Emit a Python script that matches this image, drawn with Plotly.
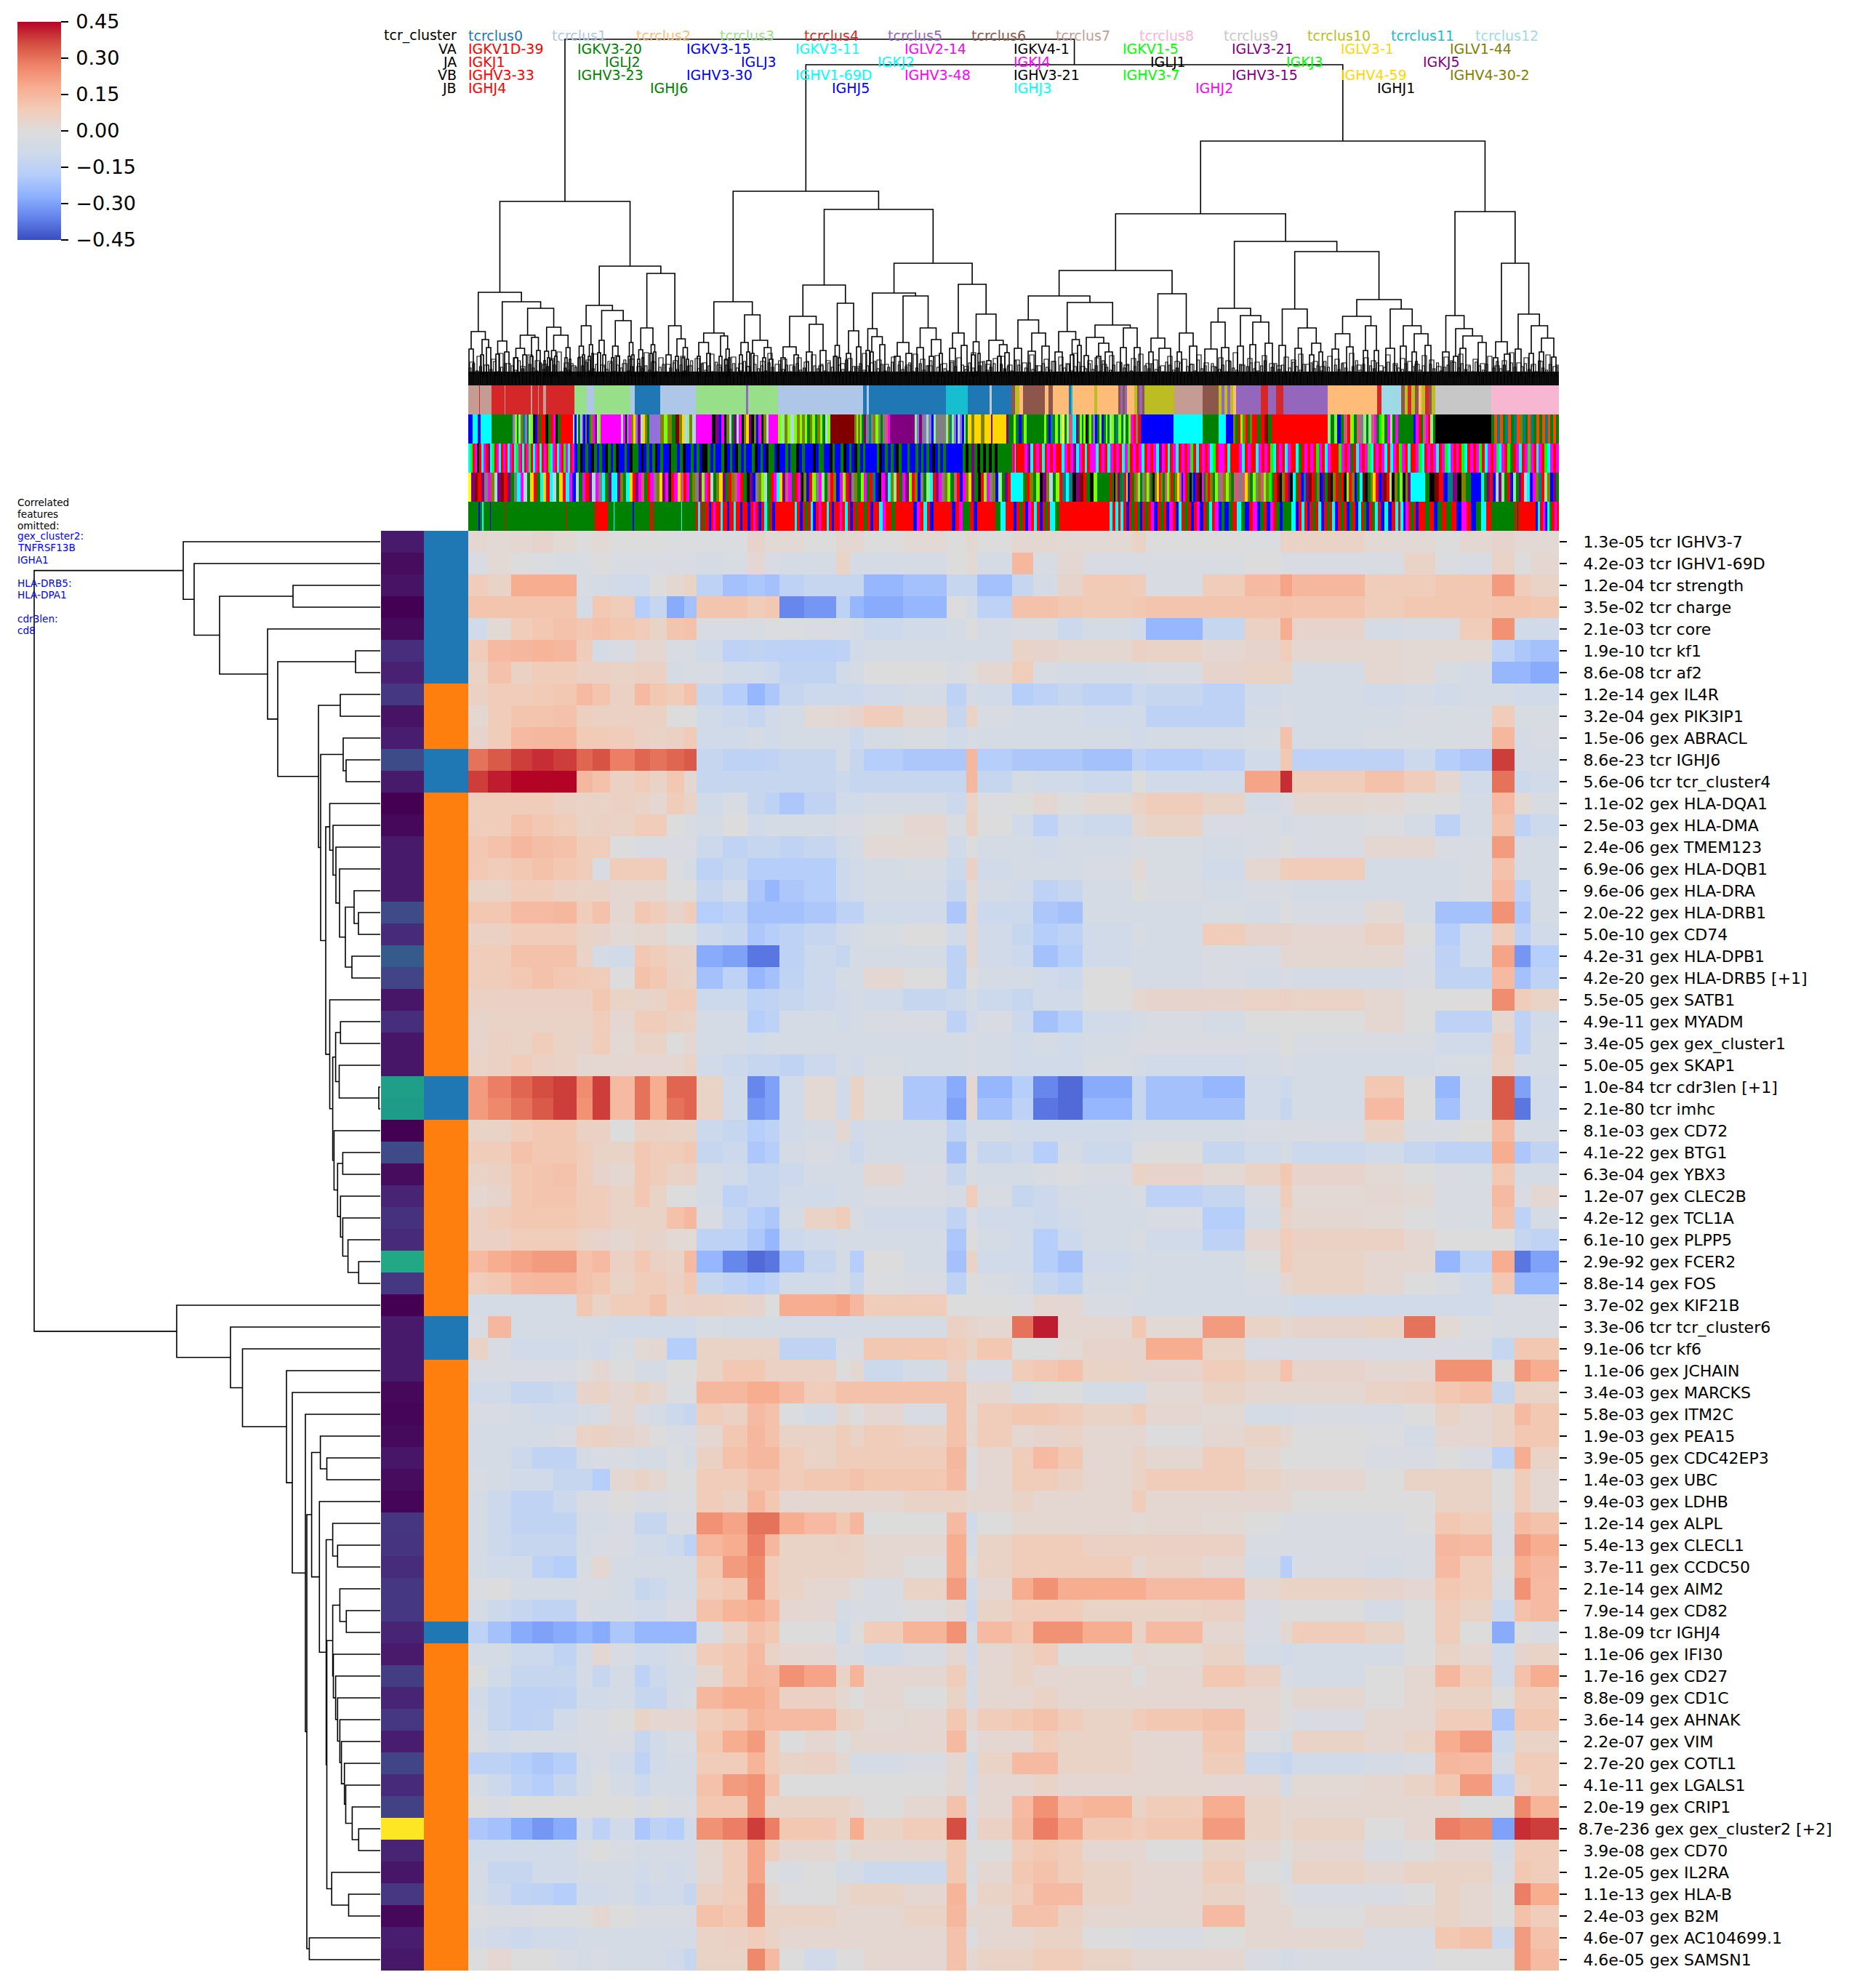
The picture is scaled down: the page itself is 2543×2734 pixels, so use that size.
import plotly.graph_objects as go

W, H = 2543, 2734

# ---------- row labels ----------
row_labels = [
 "1.3e-05 tcr IGHV3-7","4.2e-03 tcr IGHV1-69D","1.2e-04 tcr strength","3.5e-02 tcr charge","2.1e-03 tcr core",
 "1.9e-10 tcr kf1","8.6e-08 tcr af2","1.2e-14 gex IL4R","3.2e-04 gex PIK3IP1","1.5e-06 gex ABRACL",
 "8.6e-23 tcr IGHJ6","5.6e-06 tcr tcr_cluster4","1.1e-02 gex HLA-DQA1","2.5e-03 gex HLA-DMA","2.4e-06 gex TMEM123",
 "6.9e-06 gex HLA-DQB1","9.6e-06 gex HLA-DRA","2.0e-22 gex HLA-DRB1","5.0e-10 gex CD74","4.2e-31 gex HLA-DPB1",
 "4.2e-20 gex HLA-DRB5 [+1]","5.5e-05 gex SATB1","4.9e-11 gex MYADM","3.4e-05 gex gex_cluster1","5.0e-05 gex SKAP1",
 "1.0e-84 tcr cdr3len [+1]","2.1e-80 tcr imhc","8.1e-03 gex CD72","4.1e-22 gex BTG1","6.3e-04 gex YBX3",
 "1.2e-07 gex CLEC2B","4.2e-12 gex TCL1A","6.1e-10 gex PLPP5","2.9e-92 gex FCER2","8.8e-14 gex FOS",
 "3.7e-02 gex KIF21B","3.3e-06 tcr tcr_cluster6","9.1e-06 tcr kf6","1.1e-06 gex JCHAIN","3.4e-03 gex MARCKS",
 "5.8e-03 gex ITM2C","1.9e-03 gex PEA15","3.9e-05 gex CDC42EP3","1.4e-03 gex UBC","9.4e-03 gex LDHB",
 "1.2e-14 gex ALPL","5.4e-13 gex CLECL1","3.7e-11 gex CCDC50","2.1e-14 gex AIM2","7.9e-14 gex CD82",
 "1.8e-09 tcr IGHJ4","1.1e-06 gex IFI30","1.7e-16 gex CD27","8.8e-09 gex CD1C","3.6e-14 gex AHNAK",
 "2.2e-07 gex VIM","2.7e-20 gex COTL1","4.1e-11 gex LGALS1","2.0e-19 gex CRIP1","8.7e-236 gex gex_cluster2 [+2]",
 "3.9e-08 gex CD70","1.2e-05 gex IL2RA","1.1e-13 gex HLA-B","2.4e-03 gex B2M","4.6e-07 gex AC104699.1","4.6e-05 gex SAMSN1"]

# significance colour of each row (viridis position, read from the first side strip)
row_signif = [.07,.03,.05,.0,.025,.13,.09,.16,.05,.08,.225,.07,.0,.02,.07,.07,.07,.22,.12,.28,
 .2,.06,.13,.06,.06,.56,.545,.0,.22,.03,.1,.14,.12,.6,.16,.0,.07,.07,.07,.02,.015,.025,
 .06,.03,.015,.155,.15,.125,.16,.16,.1,.07,.18,.1,.16,.08,.2,.12,.19,1.0,.1,.06,.16,.02,.08,.065]
# feature type per row: 0 = tcr, 1 = gex
row_type = [0,0,0,0,0,0,0,1,1,1,0,0,1,1,1,1,1,1,1,1,1,1,1,1,1,0,0,1,1,1,1,1,1,1,1,1,0,0,1,1,1,1,1,1,1,1,1,1,1,1,0,1,1,1,1,1,1,1,1,1,1,1,1,1,1,1]

# ---------- heatmap, block-wise values (hundredths) ----------
col_edges = [0,27,59,88,117,149,171,195,229,250,273,297,314,350,384,408,428,462,506,525,544,598,658,685,700,748,777,811,845,913,932,1010,1068,1117,1133,1233,1287,1330,1364,1408,1439,1461,1500]
heat_values = [
[3,2,3,4,2,0,2,0,0,0,-2,-2, -2,-2,4,2,2,0,3,3,0,2,0,3, 0,3,3,2,2,5,0,0,-2,5,5,2, 2,0,3,4,2,2],
[-3,2,0,-2,-4,-4,0,-3,-3,-3,-3,-3, -5,-4,3,-3,-5,-5,5,-5,-6,-6,0,2, -6,15,-4,3,-3,-3,-3,-3,0,-3,-3,-3, 5,-2,-3,5,0,3],
[8,5,18,18,18,-3,-6,-8,-9,0,3,5, -15,-22,-20,-22,-15,-12,-12,-12,-25,-22,-12,-12, -22,-12,-5,4,9,8,-3,8,14,20,15,8, 8,10,10,22,8,5],
[11,11,11,11,11,-5,10,8,-18,-12,-28,-22, 11,11,8,10,-35,-32,-15,-25,-28,-25,0,-5, -15,12,12,10,9,10,11,11,11,12,11,8, 10,10,10,11,11,10],
[-8,2,8,10,12,10,12,10,8,5,11,12, -3,-3,-3,-2,-2,-3,-3,-5,-10,-8,-5,0, -5,-3,-3,-10,-6,-8,-25,-12,6,18,4,-5, -4,-3,8,24,-8,-8],
[8,14,15,16,15,8,-5,-3,3,3,-3,-3, -8,-15,-14,-15,-16,-16,-15,-8,-6,-6,-5,-5, -6,5,4,3,3,6,5,3,4,8,3,3, 2,2,2,-15,-20,-22],
[5,12,6,8,8,6,6,5,6,6,-5,-3, -3,-8,-8,-10,-14,-14,-8,-5,0,0,-3,0, 3,8,-3,-5,-5,-5,-3,4,5,5,-6,3, 2,-4,-5,-25,-25,-28],
[6,8,8,9,10,14,11,6,14,10,8,12, -12,-18,-25,-20,-12,-10,-10,-10,-8,-6,-15,-6, -8,-18,-15,-12,-15,-10,-12,-15,-8,-5,-6,-8, -5,-8,-6,-5,-8,-8],
[3,8,11,11,12,7,6,6,6,6,0,0, -8,-10,-12,-8,-5,2,3,4,8,3,-12,5, -3,-6,-6,-6,-8,-8,-15,-15,-5,-3,-5,-6, -3,-4,-4,8,-4,-4],
[4,8,14,15,15,9,9,8,6,5,6,9, -8,-8,-6,-8,-6,-6,-6,-10,-5,-4,-8,-4, -5,-6,-5,-5,-6,-8,-6,-5,-4,12,-5,-4, -4,-4,-3,15,-5,-3],
[30,34,38,40,38,32,35,28,32,30,32,34, -12,-15,-15,-14,-12,-12,-5,-12,-18,-20,-20,15, -18,-20,-20,-20,-22,-15,-18,-15,-8,10,-15,-15, -10,-18,-20,38,-5,-5],
[38,42,45,45,45,15,12,6,8,5,10,3, -12,-12,-12,-12,-12,-12,-10,-12,-12,-12,-12,15, -12,-6,-8,-8,-10,0,-8,-8,20,40,8,12, 8,3,-8,30,-10,-8],
[8,8,8,8,6,5,5,6,5,3,8,5, -8,-4,-12,-15,-20,-14,-8,-8,-6,-5,-10,5, -2,0,3,0,2,5,8,5,-5,-3,3,2, 0,0,-5,14,2,-3],
[8,8,12,10,8,5,6,5,8,8,0,-3, -5,0,-8,-6,-6,-6,-3,-3,0,3,-3,6, 0,-8,-15,-8,-10,3,5,-3,-3,-5,-3,-2, -5,-15,-5,12,-15,-10],
[10,12,15,13,12,8,8,0,-3,-3,-3,-3, -10,-14,-12,-12,-14,-12,-8,-5,2,2,-8,0, -5,-5,-8,-6,-5,-3,-4,-5,-3,0,-3,3, 3,-3,-3,22,-6,-6],
[10,8,10,12,10,8,-3,8,8,8,-2,-5, -15,-12,-18,-18,-18,-18,-10,-8,-5,-4,-10,6, -8,-5,-6,-5,-3,2,-4,-8,3,8,8,-5, -5,-5,-3,12,-6,-6],
[5,5,8,8,6,5,5,3,3,3,0,0, -12,-8,-20,-25,-20,-18,-10,-8,-5,-6,-12,2, -5,-8,-15,-12,-5,0,-3,-5,-3,-3,-5,-6, -5,-5,-3,14,-15,-5],
[10,10,14,14,15,8,12,3,10,8,4,8, -18,-15,-22,-22,-22,-20,-15,-15,-8,-8,-20,3, -10,-10,-20,-22,-6,-5,-5,-4,-5,0,-3,2, -5,-22,-22,24,-20,-6],
[6,6,8,8,8,5,4,2,3,3,0,0, -10,-12,-20,-18,-15,-12,-8,-5,-4,0,-8,3, -8,-12,-18,-15,-8,-3,-5,8,4,4,3,6, 0,-18,-8,8,-15,-8],
[8,8,12,12,12,5,-5,-8,10,8,5,5, -28,-30,-38,-38,-15,-10,-12,-5,-5,-5,-15,3, -8,-10,-22,-18,-8,-5,-5,-3,-3,3,3,3, -3,-15,-8,20,-32,-18],
[8,8,10,12,10,9,8,0,12,10,6,5, -22,-15,-25,-22,-14,-10,-6,-6,3,0,-15,0, -5,-5,-8,-10,0,-5,-5,-3,-5,-3,-5,-5, -3,-14,-14,14,-22,-15],
[6,6,6,6,6,6,10,5,4,5,8,8, -10,-10,-15,-14,-12,-10,-8,-6,-8,-12,-10,-5, -10,-12,-8,-8,0,3,4,4,5,6,5,3, 0,0,0,25,8,5],
[4,5,5,5,5,5,8,3,8,8,6,5, -5,-5,-18,-15,-5,-5,-8,-5,-3,-3,-15,-8, -3,-10,-22,-18,-8,-5,-3,-5,0,0,0,3, 0,-15,-15,3,-15,-8],
[4,6,5,8,5,4,8,2,5,5,0,3, -6,-5,-8,-6,-5,-6,-5,-6,-5,-5,-6,-3, -6,-8,-6,-8,-5,-3,-3,-3,-3,0,-3,-3, -3,-8,-8,6,-15,-5],
[5,6,8,6,5,3,3,3,3,3,3,5, -8,-10,-12,-12,-14,-10,-6,-8,-4,-5,-5,-3, -5,-8,-8,-8,-4,-5,-8,-8,-5,-3,-5,-5, -5,-4,-4,5,-5,-5],
[22,28,32,36,38,25,38,14,30,18,32,32, 5,-8,-35,-30,-8,2,-8,5,0,-20,-28,3, -25,-18,-35,-40,-28,-12,-22,-25,-8,-10,-6,10, 0,-25,-5,34,-30,-8],
[22,26,30,34,38,24,38,14,30,18,30,32, 5,-8,-32,-30,-8,2,-8,5,0,-20,-30,3, -22,-15,-38,-40,-25,-12,-22,-22,-8,-12,-6,14, 0,-22,-5,34,-38,-8],
[5,5,8,10,10,6,6,0,6,6,5,5, -10,-12,-18,-15,-8,-5,3,-8,-6,-6,-14,-5, -6,-8,-8,-8,-8,-5,-5,-6,-3,-3,-3,5, -3,-3,0,14,-5,-5],
[8,8,12,10,10,8,5,5,10,8,8,10, -12,-10,-20,-18,-6,-3,-5,-10,-6,-6,-22,-3, -12,-10,-18,-6,-10,-2,0,-12,-8,-6,-10,-8, -12,-15,-15,18,-20,-14],
[5,6,10,11,12,8,4,3,10,8,5,6, -6,-8,-12,-12,-10,-6,-5,-5,3,-3,-12,-3, -5,-5,-3,-2,-3,5,4,2,5,10,4,2, 0,-3,-4,10,-6,-6],
[3,4,10,11,11,8,8,5,10,5,0,0, -6,-15,-12,-12,-8,-8,-5,-6,-3,-3,-5,8, -3,-12,-10,-6,-6,-4,-15,-12,-3,8,2,3, 2,-3,-3,14,-3,3],
[6,8,10,10,10,8,8,5,5,5,12,15, -3,-12,-18,-20,-5,5,8,-3,-8,-8,-14,-3, -8,-8,-10,-8,-5,-5,-3,-18,-5,5,3,2, 0,-3,-4,12,-15,-5],
[6,6,8,8,8,5,4,3,5,4,2,2, -15,-15,-20,-25,-10,-8,-5,-5,-5,-6,-20,0, -6,-8,-18,-10,-5,-3,-8,-15,3,8,6,6, 3,0,0,0,-12,-14],
[14,18,20,22,22,12,14,6,10,6,5,14, -25,-35,-40,-38,-22,-12,-6,-18,0,-5,-22,5, -8,-8,-18,-22,-8,-6,-5,-5,0,8,5,3, 3,-25,-15,18,-38,-30],
[8,10,14,15,15,12,10,5,8,8,6,10, -12,-15,-18,-15,-8,-8,-5,-12,-2,-3,-15,0, -3,-5,-12,-15,-6,-4,-6,-5,-3,3,5,3, 0,-3,-8,10,-25,-25],
[-6,-6,-6,-6,-6,10,5,8,8,12,5,6, 6,5,4,0,18,18,20,15,8,8,0,0, 0,-2,3,3,-3,-5,-5,-5,-5,-6,-8,-8, -8,-8,-8,-3,-3,-3],
[-3,15,-5,-6,-6,-6,-6,-8,-8,-8,-8,-8, -4,-5,-6,-6,-6,-6,-6,-6,-5,-5,6,4, 3,30,42,3,3,10,2,22,5,3,4,5, 30,2,-2,-3,-3,-3],
[5,-3,-8,-8,-8,-6,-8,-4,2,3,-18,-18, 5,5,5,5,-14,-14,-3,-3,10,10,8,5, 10,0,0,2,4,4,18,5,-3,-3,-3,-3, -3,-3,-3,-12,10,10],
[-3,-3,-3,-3,-3,0,3,0,-5,-5,0,0, 5,10,10,6,6,6,0,3,-10,-5,6,-3, -3,8,10,12,5,4,4,8,5,12,4,3, 3,24,24,0,22,18],
[-8,-8,-12,-12,-10,4,5,3,5,3,-2,-2, 15,15,18,18,14,8,12,12,12,12,12,3, 3,-3,0,0,-5,-5,2,5,3,3,3,5, 6,10,12,-12,5,5],
[-3,-3,-5,-8,-8,-5,-3,3,-3,-5,-10,-12, 8,6,14,12,-2,-6,3,0,3,-3,12,2, 8,10,10,8,5,8,3,2,-5,-5,-3,-3, 0,5,3,5,14,10],
[-5,-5,-6,-6,-3,5,6,4,3,0,-3,-3, 3,10,15,12,5,5,8,5,8,6,12,3, 8,3,4,5,3,3,0,3,5,3,0,-2, -5,3,3,5,10,10],
[-6,-6,-10,-14,-14,-5,-3,-3,-6,-5,-2,-5, 6,12,15,15,8,5,8,8,8,8,15,0, 3,8,14,10,3,5,3,8,3,0,0,-3, -3,0,-3,-15,18,5],
[-3,-5,-8,-8,-12,-12,-18,3,5,3,0,0, 8,8,12,12,8,10,10,12,10,10,14,0, 3,8,8,6,3,5,8,8,5,3,3,0, 5,5,5,0,8,3],
[-5,-10,-14,-14,-10,-3,-3,0,-3,-3,-2,-2, 8,6,15,10,3,3,3,3,3,5,5,3, 3,5,3,3,3,8,3,3,3,3,0,0, 0,5,5,0,8,3],
[-6,-10,-14,-14,-14,-5,-5,-3,-12,-12,-3,-3, 24,20,30,30,18,14,10,15,0,0,14,-8, 0,3,3,3,3,2,3,2,0,-3,-3,-3, 0,10,8,-3,14,12],
[-5,-10,-12,-12,-12,-6,-3,-3,-8,-8,-10,-15, 15,18,28,15,5,5,6,5,3,3,18,-5, 5,8,8,8,6,6,6,6,-3,-3,-3,-3, -3,15,14,-3,22,18],
[-5,-8,-8,-15,-18,-4,3,-6,-6,-6,-6,-5, 10,22,26,8,5,5,5,5,3,0,18,0, 5,8,8,8,8,3,5,3,-5,-18,-3,-5, -3,14,8,0,18,15],
[-2,0,-5,-5,-5,-3,-3,-5,-12,-10,-6,-6, 8,10,25,8,5,3,3,0,-3,5,22,-8, 3,18,24,18,18,18,14,14,3,5,5,4, 3,10,8,-3,24,14],
[-6,-10,-12,-14,-14,-3,-6,-5,-8,-8,-3,-3, 12,16,18,14,3,3,-5,-3,-3,0,3,-10, 5,8,8,8,5,5,5,6,-3,0,0,-5, 0,8,5,-10,12,14],
[-15,-22,-28,-30,-28,-25,-28,-20,-25,-25,-25,-25, -3,5,12,10,0,0,-8,0,8,16,24,-5, 14,10,24,24,18,5,14,3,-3,3,8,5, 0,8,0,-28,0,-3],
[-6,-6,-10,-10,-14,-5,3,-3,-8,-8,-5,-3, 8,10,14,5,3,3,-3,-3,-8,-3,3,-8, 3,5,8,0,0,3,2,5,-5,-8,-5,-5, 0,5,3,-8,4,5],
[0,-8,-12,-12,-12,-6,-12,-6,-15,-10,-6,-6, 3,10,15,14,24,20,5,16,3,3,8,-5, 3,5,3,3,3,0,3,10,6,-3,-5,0, 3,15,8,-8,12,18],
[-8,-12,-15,-15,-14,-8,-8,-5,-12,-12,-6,-4, 15,18,18,15,6,6,3,0,3,0,5,-5, 3,3,5,3,3,3,3,3,3,0,3,0, 3,5,5,0,8,8],
[-5,-12,-15,-14,-8,-3,-3,0,5,3,3,3, 8,10,16,14,14,14,6,5,2,3,10,3, 8,10,12,8,5,8,10,12,3,0,-3,3, 3,8,8,-20,10,10],
[-3,-8,-6,-6,-6,-3,-3,-3,-12,-8,-4,-3, 10,18,22,8,0,3,0,3,3,3,14,0, 3,3,8,5,5,3,3,10,-2,-6,5,3, 5,18,22,-10,5,5],
[-15,-15,-18,-20,-18,-6,-3,-8,-15,-8,-5,-5, 8,8,16,8,5,6,3,-5,-6,-3,3,-8, 5,14,14,5,5,3,3,8,-10,-12,-8,-5, -3,15,14,-5,8,8],
[-6,-10,-15,-18,-12,-6,0,-6,-10,-6,-5,-5, 12,22,24,12,0,0,0,0,0,0,3,-5, 3,3,5,3,3,3,3,3,3,-5,2,3, 5,10,22,-15,5,8],
[0,-3,0,0,0,0,0,0,-3,0,-3,-3, 10,10,24,5,5,5,5,3,0,3,12,-3, 3,14,24,14,16,5,8,18,5,3,3,3, 3,3,0,0,26,16],
[-20,-22,-28,-32,-28,-8,-15,-8,-20,-15,-18,-8, 24,28,38,28,10,10,5,18,5,8,36,-5, 6,15,28,20,10,8,10,22,5,3,5,0, 3,28,26,-30,40,38],
[-8,-8,-8,-8,-8,-3,0,-3,-6,-6,-5,-5, 3,8,20,8,3,3,0,3,3,3,10,0, 0,8,10,8,3,3,0,5,3,0,3,-3, 0,3,3,-5,8,8],
[-6,-12,-12,-8,-8,-5,-5,-6,-8,-6,-8,-6, 3,8,20,0,-3,0,-5,-6,-10,-10,10,-3, 3,10,12,8,5,3,3,8,0,-3,5,3, 5,5,5,-3,10,8],
[-6,-10,-14,-15,-18,-8,-8,-6,-10,-8,-8,-12, 6,8,24,3,0,0,3,5,5,3,16,-2, 5,8,14,14,5,3,3,5,3,0,-3,-3, 0,5,3,0,28,18],
[-2,-3,-3,-2,-2,0,3,0,-3,-3,-3,-3, 12,10,24,5,5,5,3,3,3,5,15,3, 3,12,12,6,3,3,3,14,3,3,0,3, 3,5,3,0,12,8],
[-5,-8,-10,-8,-8,-5,-6,-6,-6,-6,-5,-5, 5,6,8,5,3,3,3,3,3,3,12,-2, 3,3,5,5,0,-3,-3,0,3,3,3,-3, -3,10,12,-10,22,12],
[0,3,0,0,-3,-6,-3,-5,-6,-6,-8,-12, 5,5,26,14,0,-8,0,0,3,3,12,3, 5,5,8,8,5,3,3,3,-3,-5,-3,-3, -3,0,0,0,22,14],
]

# ---------- annotation strips: letters name a palette entry, (start column, letters) ----------
palette = {
 '0':'#1f77b4','1':'#aec7e8','2':'#ffbb78','3':'#98df8a','4':'#d62728','5':'#9467bd','6':'#8c564b','7':'#c49c94',
 '8':'#f7b6d2','9':'#c7c7c7','A':'#bcbd22','B':'#17becf','D':'#9edae5',
 'r':'#ff0000','g':'#008000','b':'#0000ff','c':'#00ffff','m':'#ff00ff','k':'#000000','l':'#00ff00','p':'#800080',
 'y':'#ffd700','o':'#808000','M':'#800000','s':'#808080','L':'#90ee90','Y':'#7fff00','O':'#ff4500','T':'#008080',
 'P':'#9370db','S':'#add8e6','C':'#cd5c7c','F':'#ffff00'}

strip_cluster = [(0,"7"),(15,"4"),(16,"7"),(32,"4"),(50,"7"),(51,"4"),(86,"7"),(88,"4"),(96,"7"),(97,"4"),(103,"7"),(107,"4"),
 (146,"3"),(163,"1"),(173,"3"),(223,"1"),(229,"0"),(264,"1"),(270,"1"),(313,"3"),(382,"5"),(385,"3"),(426,"1"),(543,"0"),(548,"1"),(551,"0"),
 (657,"B"),(687,"0"),(717,"9"),(720,"0"),(747,"6A2"),(763,"6"),(793,"2"),(798,"6"),(804,"2"),(826,"0B2"),(834,"2"),(861,"A"),(865,"2"),
 (894,"6565"),(906,"2"),(916,"A656"),(930,"A"),(971,"7"),(1010,"6"),(1032,"A5A5A2"),(1056,"5"),(1090,"4545"),(1131,"5"),(1182,"2"),
 (1250,"4"),(1256,"D"),(1283,"6A4A62A46A"),(1330,"9"),(1407,"8")]

strip_va = [(0,"b"),(6,"c"),(13,"b"),(17,"c"),(32,"g"),(61,"PYgLoTPgLYkbrgr"),(103,"rkgrmkgr"),(130,"r"),(144,"SbSgSPbo"),(163,"bgompSY"),
 (182,"m"),(207,"mSmkPm"),(224,"oyPpSyog"),(249,"P"),(264,"oYogM"),(290,"oySLo"),(308,"S"),(313,"m"),(335,"kp"),(345,"bmkoSgpSmkoypkobmkoS"),
 (413,"m"),(426,"YLoYSY"),(452,"oYoYgoYgoYgSY"),(498,"M"),(531,"oYoYg"),(544,"psTsoYsgsCm"),(580,"p"),(614,"LPpsPLPbL"),(643,"s"),
 (657,"LoTLPbSPbLg"),(687,"yoyyoyy"),(719,"p"),(721,"y"),(740,"pg"),(746,"gYgbgY"),(768,"g"),(792,"YgbTgYgLFgL"),(826,"Cc"),(836,"pgYgYkgYgP"),
 (862,"bgYbgYgLYg"),(891,"TYgLgYmrsrb"),(928,"b"),(970,"c"),(1010,"g"),(1032,"cb"),(1052,"ogrYorgorr"),(1085,"grMg"),(1105,"r"),
 (1182,"LgYbgCrYgCs"),(1231,"LgLCmglY"),(1260,"gmLgm"),(1279,"g"),(1300,"bmrgCmrLg"),(1330,"k"),(1407,"gOTOgTOgTOoTgOTgOgOTOgOg")]

strip_ja = [(0,"clrmkrcmrpclrmcrmrcmrclmrcrmlrcmrcrmrlcmrcmrlmcrm"),
 (146,"bgkbgbkgbgbkgbgkbbgbkggbkbgbgkbgbbkggbgkbbgbgbkkgbgbbgkbgbkgbgbbgkbgbkggbkbbgbggkbgbbbkbggbbkgbbgkbgbkgbgbbbbgkbgbgbkgbbgbbgbgbgbkbgbg"),
 (657,"b"),(680,"gkgpgkgkgkgk"),(728,"g"),(748,"mrmc"),(753,"r"),
 (765,"mpcrmrcrmrmrrcmrmpcmrcrmmcrmrcmrmrcmlrmrmcrmrmcpmrcrmcrmrmlrcrmrmclrmmrcrrrmcrmrrcmrmrlcrmrcmrrcgrmrmrlmrcmrrrlmrmgrcmrmlcrmrmcrcmrlmrcrrmlcrmrmcrmlcmrmrlcrmrmlrcmrmlcmrlgrmcrmlmrcmrlcmrm")]

strip_vb = [(0,"FpMrpsmoSpMrpgscmSgyrgcyrcSgyrcmbSgmrpSmscgp"),(197,"c"),(205,"pogcyrpmCgrmsoypmkrmyCrmgospYmrSgoypgroCmrgkpbsoYSgrmcypCmgrmkobrYsmLgCrobmYrpsogYmgrTbkmpcoLrgmpYrobsgLcrpmsoYgCrbmoypgkrYmsobLgpr"),
 (746,"c"),(763,"grogYkpoSgYrTc"),(826,"TkpMrgkYg"),(870,"g"),(882,"rgkopgTrYbrgoCYgsoYCgkoyrogCYorgoyCbmrgkTbpMkmgor"),
 (1020,"ogYsCoYogCCsCyogYsoCYolgrMkorpkcgrbTpMrgobpgMkorgrkYrobgcMkgoyrbpMrLkogYkop"),(1296,"c"),(1316,"gkMrbTpkogb"),(1385,"b"),(1393,"cgprbSpLgrbLgprScbmoTrLobpg")]

strip_jb = [(0,"g"),(14,"b"),(16,"g"),(19,"c"),(21,"g"),(30,"b"),(31,"g"),(50,"r"),(51,"g"),(135,"r"),(136,"g"),(173,"rg"),(176,"rrg"),(200,"c"),(201,"g"),
 (226,"b"),(228,"g"),(250,"rrgr"),(256,"g"),(293,"c"),(294,"g"),
 (313,"rcrgrrbrmrrcrrbrrcrrbr"),(380,"rbrmrbrcgrbr"),(426,"r"),(445,"rcrbrgrcbrmrrcrbrrmrcrbrgr"),(540,"rgrbrrcmrrgrr"),(595,"r"),(612,"bmrcrb"),(640,"r"),(665,"brm"),(680,"g"),(690,"rb"),(700,"r"),(725,"gcr"),
 (746,"rbrgrbmrcrb"),(790,"rgr"),(800,"cgr"),(820,"r"),(860,"r"),(882,"c"),(886,"rcrcrbrgrgbrg"),(935,"rmbrgrbmrbcrgrbrmbrgcrmbg"),(1040,"bgrcgbrm"),(1085,"bgrbmrgb"),(1120,"g"),(1132,"c"),(1138,"brcrbrgrcbrgrcbr"),(1200,"grbgrbcrgbrgcr"),(1255,"bcbr"),(1275,"crcbmrgrbr"),(1310,"rgrbgr"),(1345,"grbmrbgcr"),(1407,"g"),(1439,"rgrMg"),(1445,"r"),(1468,"bcrmbcgrmr")]

# ---------- column dendrogram: [height, left, right]; a bare number is a column ----------
col_a_left = [128,[74,[50,1,7],[63,[42,17,21],[52,25,31]]],[115,[61,[43,38,43],[46,50,56]],[106,[69,[51,[38,63,68],[42,75,80]],[66,[40,85,89],[48,94,99]]],[80,[47,[34,104,106],[38,109,112]],[69,[48,[35,113,116],[40,119,122]],[52,[38,133,136],[36,139,141]]]]]]]
col_a_r1 = [110,[82,[54,[38,151,154],[42,157,160]],[56,[40,165,168],[44,170,172]]],[103,[62,[45,178,182],[42,185,189]],[89,[54,[38,197,200],[40,204,208]],[59,[40,220,223],[42,225,228]]]]]
col_a_r2 = [154,[79,[49,[36,233,236],[38,239,241]],[56,[44,250,253],[46,255,258]]],[82,[42,272,279],[64,[40,285,289],[52,[38,294,297],[36,300,303]]]]]
col_a = [253,col_a_left,[164,col_a_r1,col_a_r2]]
col_b1 = [115,[72,[59,[40,315,319],[44,328,333]],[68,[40,345,349],[50,[36,353,356],[38,358,360]]]],[97,[59,[42,373,377],[46,383,387]],[62,[44,389,393],[52,[38,405,409],[36,414,419]]]]]
col_b2 = [138,[95,[53,[38,430,436],[42,448,454]],[84,[46,465,473],[48,484,492]]],[113,[55,[40,503,506],[38,509,512]],[75,[44,520,526],[53,534,540]]]]
col_b3 = [127,[78,[48,547,552],[67,[46,553,557],[56,566,573]]],[123,[59,[40,586,594],[44,602,610]],[79,[52,617,626],[63,[40,634,640],[44,648,652]]]]]
col_b4 = [139,[72,[51,662,670],[55,678,686]],[98,[60,[42,692,697],[44,701,704]],[62,[34,713,719],[56,[40,728,733],[45,738,744]]]]]
col_bl = [267,col_b1,[242,col_b2,[168,col_b3,col_b4]]]
col_c1 = [123,[90,[51,751,761],[72,[47,770,780],[54,789,799]]],[114,[74,[46,807,817],[63,[42,828,833],[55,838,843]]],[83,[66,[41,847,853],[58,[40,864,870],[46,876,886]]],[79,[52,897,905],[52,916,924]]]]]
col_c2 = [126,[65,[46,936,942],[51,950,966]],[72,[46,975,981],[54,992,1002]]]
col_c3 = [106,[87,[50,1013,1030],[52,1036,1046]],[96,[54,1058,1066],[87,[56,1075,1083],[58,1096,1106]]]]
col_c4 = [105,[55,1115,1124],[79,[51,1137,1146],[58,[42,1157,1163],[46,1170,1175]]]]
col_c5 = [118,[95,[71,[50,1188,1197],[53,1208,1217]],[82,[48,1231,1237],[48,1246,1252]]],[105,[51,1262,1274],[82,[54,1282,1290],[71,[46,1298,1304],[55,1316,1324]]]]]
col_c = [236,[158,col_c1,col_c2],[198,col_c3,[184,col_c4,col_c5]]]
col_d = [239,[96,[46,1340,1349],[78,[40,1355,1361],[68,[51,1364,1372],[59,1389,1400]]]],[168,[60,[38,1410,1416],[43,1425,1433]],[98,[50,1440,1448],[82,[44,1459,1465],[65,[46,1473,1479],[39,1490,1496]]]]]]
col_tree = [476,col_a,[441,col_bl,[336,col_c,col_d]]]
col_leaf_height = 12
band_height = 19
comb_heights = [24,30,20,26,18,28,22,33,19,25,30,17,27,21,34,23,18,29,24,20,31,22,26,17,28,33,19,24,21,30,25,18,27,32,20,23,29,17,26,22,
 31,19,28,24,35,20,26,18,30,23,27,21,33,19,25,29,17,24,31,22,28,20,26,34,18,23,30,21,27,19,32,25,17,28,22,30,24,20,33,26,
 18,29,23,27,20,31,25,17,34,22,28,19,26,30,21,24,33,18,27,23,29,20,31,25,18,28,22,35,19,26,24,30,21,27,17,33,23,29,20,25,
 32,18,28,22,26,31,19,24,30,21,27,34,17,25,29,23,20,32,26,18,28,22,31,24,19,27,33,21,25,30,17,29,23,26,20,34,28,18,24,31,
 22,27,19,30,25,21,33,17,28,24,29,20,26,32,18,23,30,22,27,19,34,25,21,28,17,31,24,29,20,26,33,18,27,23,30,22,25,19,32,28,
 21,24,31,17,26,29,20,35,23,27,18,30,25,22,28,19,33,24,21,29,17,26,31,23,20,27,34,18,25,30,22,28,19,24,32,26,21,29,17,31,
 23,27,20,33,25,18,28,22,30,24,19,26,34,21,29,17,27,23,31,20,25,32,18,28,24,22,30,19,26,33,21,27,17,29,23,31,20,25,28,34,
 18,24,30,22,26,19,32,27,21,29,17,24,33,23,28,20,31,25,18,26,30,22,27,19,34,24,21,29,17,28]
comb_mid = [32,40,28,36,44,30,38,26,42,34,29,37,46,31,27,39,35,43,28,33,41,30,36,26,45,32,38,29,34,40,27,37,31,43,28,35,39,30,26,41,
 33,44,29,36,28,38,32,42,27,34,40,30,37,26,44,31,35,29,39,33,28,43,36,27,41,30,34,38,26,45,32,29,37,40,28,35,31,42,27,36,
 33,39,30,44,26,34,38,29,41,32,28,37,43,30,35,27,40,33,36,29,42,31,26,38,34,45,28,37,32,41,30,27,39,35,43,29,33,26,40,36,
 31,44,28,38,34,27,42,30,37,33,29,41,35,26,39,32,43,28,36,30,40,27,34,45,31,38,29,33,42,26]

# ---------- row dendrogram: a bare number is a row ----------
row_u = [69.5,12,[65,13,[61,14,[56,15,[48,[36,16,[30,17,18]],[39,19,20]]]]]]
row_v1 = [61.4,[54.7,22,23],[56.5,24,[2,25,26]]]
row_v2 = [63.6,27,[58.7,[51.6,28,29],[54.7,30,[51.6,31,[44.4,32,[29.7,33,34]]]]]]
row_v = [69.5,21,[65.4,row_v1,row_v2]]
row_q = [82,[51,9,[47,10,11]],[75,row_u,row_v]]
row_top = [271,0,[256,1,[221,[120,2,3],[155,4,[141,[34,5,6],[85,[55,7,8],row_q]]]]]]
row_w1 = [65.4,[55.6,48,[46.7,49,50]],[64.5,51,[61.4,52,[58.7,53,[55.6,54,[53.4,55,[49.3,56,[47.5,57,[38.6,58,[29.7,59,60]]]]]]]]]]
row_w = [74.4,[65.4,45,[58.7,46,47]],[73.5,row_w1,[66.8,61,[43.5,62,63]]]]
row_x = [94.4,[82.4,41,[73.5,42,43]],[83.7,44,row_w]]
row_bottom = [280,35,[206,36,[189.5,37,[129,38,[121,39,[103,40,[101,row_x,[97.6,64,65]]]]]]]]
row_tree = [476,row_top,row_bottom]

# ---------- header labels ----------
head_titles = ["tcr_cluster","VA","JA","VB","JB"]
cluster_names = ["tcrclus%d"%i for i in range(13)]
cluster_colors = ['#1f77b4','#aec7e8','#ffbb78','#98df8a','#d62728','#9467bd','#8c564b','#c49c94','#f7b6d2','#c7c7c7','#bcbd22','#17becf','#9edae5']
gene_colors = ['#ff0000','#008000','#0000ff','#00ffff','#ff00ff','#000000','#00ff00','#800080','#ffd700','#808000']
va_names = ["IGKV1D-39","IGKV3-20","IGKV3-15","IGKV3-11","IGLV2-14","IGKV4-1","IGKV1-5","IGLV3-21","IGLV3-1","IGLV1-44"]
ja_names = ["IGKJ1","IGLJ2","IGLJ3","IGKJ2","IGKJ4","IGLJ1","IGKJ3","IGKJ5"]
vb_names = ["IGHV3-33","IGHV3-23","IGHV3-30","IGHV1-69D","IGHV3-48","IGHV3-21","IGHV3-7","IGHV3-15","IGHV4-59","IGHV4-30-2"]
jb_names = ["IGHJ4","IGHJ6","IGHJ5","IGHJ3","IGHJ2","IGHJ1"]
note_lines = [("Correlated","black",691),("features","black",707),("omitted:","black",723),("gex_cluster2:","blue",737),("TNFRSF13B","blue",753),
 ("IGHA1","blue",770),("HLA-DRB5:","blue",802),("HLA-DPA1","blue",818),("cdr3len:","blue",851),("cd8","blue",867)]

# ---------- helpers ----------
FONT = "DejaVu Sans"
def px(x): return x / W
def py(y): return 1 - y / H

coolwarm = [[0,'#3b4cc0'],[.1,'#6282ea'],[.2,'#8db0fe'],[.3,'#b6cefa'],[.4,'#cfdaea'],[.5,'#dddcdc'],[.6,'#f2cbb7'],[.7,'#f7ad90'],[.8,'#ee8468'],[.9,'#d44e41'],[1,'#b40426']]
viridis = [[0,'#440154'],[.05,'#471365'],[.1,'#482475'],[.15,'#463480'],[.2,'#414487'],[.25,'#3b528b'],[.3,'#355f8d'],[.35,'#2f6c8e'],[.4,'#2a788e'],
           [.45,'#25858e'],[.5,'#21918c'],[.55,'#1e9c89'],[.6,'#22a884'],[.65,'#2fb47c'],[.7,'#44bf70'],[.8,'#7ad151'],[.9,'#bddf26'],[1,'#fde725']]

def links(node, leaf_h, xs, ys, flip=False):
    """Walk a [height,left,right] tree; returns (position, height) of the node."""
    if not isinstance(node, list):
        return node, leaf_h
    h, a, b = node
    pa, ha = links(a, leaf_h, xs, ys, flip)
    pb, hb = links(b, leaf_h, xs, ys, flip)
    p = [pa, pa, pb, pb]; q = [ha, h, h, hb]
    if flip: p, q = q, p
    xs += p + [None]; ys += q + [None]
    return (pa + pb) / 2, h

def expand(segments, end=1500):
    edges, keys = [], []
    for i, (start, chars) in enumerate(segments):
        stop = segments[i + 1][0] if i + 1 < len(segments) else end
        w = (stop - start) / len(chars)
        for j, ch in enumerate(chars):
            edges.append(start + j * w); keys.append(ch)
    edges.append(end)
    return edges, keys

fig = go.Figure()
axis_off = dict(visible=False, showgrid=False, zeroline=False, fixedrange=True)
L = {}

# main heatmap
L['xaxis'] = dict(axis_off, domain=[px(644), px(2144)], range=[0, 1500], anchor='y')
L['yaxis'] = dict(domain=[py(2710), py(730)], range=[65.5, -0.5], anchor='x', side='right', showgrid=False, zeroline=False, showline=False,
                  ticks='outside', ticklen=10, tickwidth=2, tickcolor='black', tickmode='array', tickvals=list(range(66)),
                  ticktext=[("\u00a0" if "e-236" in t else "\u00a0\u00a0") + t for t in row_labels],
                  tickfont=dict(family=FONT, size=22, color='black'), ticklabelstandoff=4, fixedrange=True)
fig.add_trace(go.Heatmap(z=[[v / 100 for v in r] for r in heat_values], x=col_edges, y=list(range(66)), xaxis='x', yaxis='y',
    zmin=-0.45, zmax=0.45, colorscale=coolwarm, hoverinfo='skip',
    colorbar=dict(x=px(24), xanchor='left', y=py(30), yanchor='top', lenmode='pixels', len=300, thicknessmode='pixels', thickness=60,
                  xpad=0, ypad=0, outlinewidth=0, tickmode='array', tickvals=[-.45,-.3,-.15,0,.15,.3,.45],
                  ticktext=['\u2009\u22120.45','\u2009\u22120.30','\u2009\u22120.15','\u20090.00','\u20090.15','\u20090.30','\u20090.45'],
                  ticks='outside', ticklen=10, tickwidth=2, tickcolor='black', tickfont=dict(family=FONT, size=27, color='black'))))

# side strips
L['xaxis2'] = dict(axis_off, domain=[px(524), px(583)], range=[0, 1], anchor='y2')
L['yaxis2'] = dict(axis_off, domain=[py(2710), py(730)], range=[65.5, -0.5], anchor='x2')
fig.add_trace(go.Heatmap(z=[[v] for v in row_signif], x=[0, 1], y=list(range(66)), xaxis='x2', yaxis='y2', zmin=0, zmax=1,
                         colorscale=viridis, showscale=False, hoverinfo='skip'))
L['xaxis3'] = dict(axis_off, domain=[px(583), px(644)], range=[0, 1], anchor='y3')
L['yaxis3'] = dict(axis_off, domain=[py(2710), py(730)], range=[65.5, -0.5], anchor='x3')
fig.add_trace(go.Heatmap(z=[[v] for v in row_type], x=[0, 1], y=list(range(66)), xaxis='x3', yaxis='y3', zmin=0, zmax=1,
                         colorscale=[[0,'#1f77b4'],[.5,'#1f77b4'],[.5,'#ff7f0e'],[1,'#ff7f0e']], showscale=False, hoverinfo='skip'))

# top strips
names = list(palette)
N = len(names)
strip_scale = []
for i, k in enumerate(names):
    strip_scale += [[i / N, palette[k]], [(i + 1) / N, palette[k]]]
L['xaxis4'] = dict(axis_off, domain=[px(644), px(2144)], range=[0, 1500], anchor='y4')
for n, (seg, top) in enumerate(zip([strip_cluster, strip_va, strip_ja, strip_vb, strip_jb], [530, 570, 610, 650, 690])):
    yname = 'yaxis%d' % (4 + n)
    L[yname] = dict(axis_off, domain=[py(top + 40), py(top)], range=[0, 1], anchor='x4')
    edges, keys = expand(seg)
    fig.add_trace(go.Heatmap(z=[[names.index(k) + .5 for k in keys]], x=edges, y=[0, 1], xaxis='x4', yaxis='y%d' % (4 + n),
                             zmin=0, zmax=N, colorscale=strip_scale, showscale=False, hoverinfo='skip'))

# column dendrogram
L['xaxis9'] = dict(axis_off, domain=[px(644), px(2144)], range=[0, 1500], anchor='y9')
L['yaxis9'] = dict(axis_off, domain=[py(530), py(30)], range=[0, 500], anchor='x9')
fig.add_trace(go.Bar(x=[750], y=[band_height], width=[1500], marker=dict(color='black', line=dict(width=0)), xaxis='x9', yaxis='y9', hoverinfo='skip'))
cx, cy = [], []
for series, frac, in ((comb_heights, .6), (comb_mid, .6)):
    step = 1500 / len(series)
    for i, h in enumerate(series):
        a = i * step + step * (1 - frac) / 2; b = a + step * frac
        cx += [a, a, b, b, None]; cy += [0, h, h, 0, None]
fig.add_trace(go.Scatter(x=cx, y=cy, mode='lines', line=dict(color='#111111', width=1.2), xaxis='x9', yaxis='y9', hoverinfo='skip'))
tx, ty = [], []
links(col_tree, col_leaf_height, tx, ty)
fig.add_trace(go.Scatter(x=tx, y=ty, mode='lines', line=dict(color='black', width=1.6), xaxis='x9', yaxis='y9', hoverinfo='skip'))

# row dendrogram
L['xaxis10'] = dict(axis_off, domain=[0, px(523)], range=[523, 0], anchor='y10')
L['yaxis10'] = dict(axis_off, domain=[py(2710), py(730)], range=[65.5, -0.5], anchor='x10')
tx, ty = [], []
links(row_tree, 0, tx, ty, flip=True)
fig.add_trace(go.Scatter(x=tx, y=ty, mode='lines', line=dict(color='black', width=1.6), xaxis='x10', yaxis='y10', hoverinfo='skip'))

# header text
ann = []
def text(x, y, s, color, size, anchor='left'):
    ann.append(dict(x=px(x), y=py(y), xref='paper', yref='paper', text=s, showarrow=False, xanchor=anchor, yanchor='middle',
                    font=dict(family=FONT, size=size, color=color), borderpad=0, borderwidth=0))
head_y = [49, 67, 85, 103, 121]
for s, y in zip(head_titles, head_y):
    text(628, y, s, 'black', 19, 'right')
for i, s in enumerate(cluster_names):
    text(644 + i * 115.4, head_y[0], s, cluster_colors[i], 19)
for i, s in enumerate(va_names):
    text(644 + i * 150, head_y[1], s, gene_colors[i], 19)
for i, s in enumerate(ja_names):
    text(644 + i * 187.5, head_y[2], s, gene_colors[i] if i < 7 else '#800080', 19)
for i, s in enumerate(vb_names):
    text(644 + i * 150, head_y[3], s, gene_colors[i], 19)
for i, s in enumerate(jb_names):
    text(644 + i * 250, head_y[4], s, gene_colors[i], 19)
for s, c, y in note_lines:
    text(24, y, s, c, 13.6)

fig.update_layout(width=W, height=H, margin=dict(l=0, r=0, t=0, b=0), paper_bgcolor='white', plot_bgcolor='white', showlegend=False,
                  bargap=0, annotations=ann, font=dict(family=FONT), **L)
fig.write_html("out.html", post_script="document.body.style.margin='0';document.body.style.overflow='hidden';",
               config=dict(displayModeBar=False, responsive=False))
